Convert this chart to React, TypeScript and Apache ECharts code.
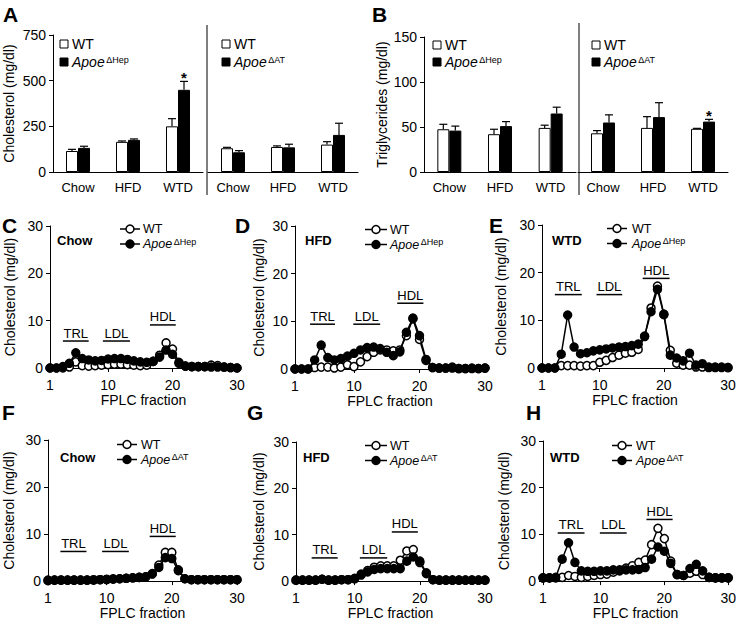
import React, { useEffect, useRef } from 'react';
import * as echarts from 'echarts';

const FONT = '"Liberation Sans", Arial, Helvetica, sans-serif';

// ---------- Bar panels (A: cholesterol, B: triglycerides) ----------
const dietCategories = ['Chow', 'HFD', 'WTD'];
const cholHepWT = [115, 165, 250];
const cholHepWTErr = [9, 5, 42];
const cholHepKO = [132, 176, 450];
const cholHepKOErr = [9, 5, 46];
const cholHepStars = [0, 0, 1];
const cholAtWT = [130, 137, 150];
const cholAtWTErr = [5, 6, 16];
const cholAtKO = [108, 135, 203];
const cholAtKOErr = [9, 17, 64];
const cholAtStars = [0, 0, 0];
const tgHepWT = [47.5, 42, 49];
const tgHepWTErr = [5.5, 5.5, 3];
const tgHepKO = [46, 51, 65];
const tgHepKOErr = [5, 5, 7];
const tgHepStars = [0, 0, 0];
const tgAtWT = [43, 49, 48];
const tgAtWTErr = [3, 12.5, 0.5];
const tgAtKO = [55, 61, 56];
const tgAtKOErr = [8.5, 16, 2.5];
const tgAtStars = [0, 0, 1];
const cholTicks = [0, 750, 250];
const tgTicks = [0, 150, 50];

// ---------- FPLC panels ----------
const fractions = [1, 2, 3, 4, 5, 6, 7, 8, 9, 10, 11, 12, 13, 14, 15, 16, 17, 18, 19, 20, 21, 22, 23, 24, 25, 26, 27, 28, 29, 30];
const fractionTicks = [1, 10, 20, 30];
const chowHepWT = [0, 0, 0, 0.2, 1.3, 0.5, 0.4, 0.5, 0.6, 0.7, 0.8, 0.8, 0.7, 0.6, 0.5, 0.6, 1.4, 2.7, 5.3, 4.0, 1.2, 0.4, 0.3, 0.3, 0.3, 0.6, 0.5, 0.2, 0.1, 0];
const chowHepKO = [0, 0, 0.3, 1.0, 3.2, 2.0, 1.7, 1.5, 1.6, 1.9, 2.0, 2.0, 1.8, 1.5, 1.3, 1.2, 1.4, 2.3, 3.8, 2.9, 1.0, 0.4, 0.3, 0.3, 0.3, 0.2, 0.2, 0.2, 0.1, 0];
const hfdHepWT = [0, 0, 0, 0.3, 0.4, 0.4, 0.2, 0.4, 0.9, 0.5, 1.5, 2.6, 3.5, 4.0, 4.0, 3.8, 4.0, 7.0, 10.5, 6.2, 1.8, 0.3, 0.2, 0.2, 0.4, 0.1, 0.1, 0.2, 0.1, 0.2];
const hfdHepKO = [0, 0, 0, 1.9, 5.0, 2.4, 1.9, 2.2, 2.7, 3.3, 4.0, 4.5, 4.6, 4.3, 3.5, 2.8, 3.6, 7.7, 10.7, 7.0, 2.0, 0.3, 0.2, 0.2, 0.2, 0.1, 0.1, 0.1, 0.1, 0.2];
const wtdHepWT = [0, 0, 0, 0.5, 0.5, 0.5, 0.4, 0.5, 0.5, 1.2, 1.6, 2.2, 2.7, 3.1, 3.3, 3.9, 6.6, 12.6, 17.2, 11.3, 3.7, 1.0, 0.6, 0.6, 0.2, 0.2, 0.1, 0.1, 0.1, 0.1];
const wtdHepKO = [0, 0, 0, 2.9, 11.1, 4.4, 3.0, 3.2, 3.6, 3.8, 4.0, 4.2, 4.4, 4.5, 4.7, 5.0, 6.7, 11.8, 16.5, 11.2, 2.7, 2.1, 1.5, 3.1, 0.6, 0.9, 0.2, 0.2, 0.2, 0.1];
const chowAtWT = [0.2, 0.2, 0.2, 0.2, 0.2, 0.2, 0.2, 0.3, 0.3, 0.4, 0.5, 0.5, 0.6, 0.7, 0.8, 0.9, 1.6, 3.4, 6.1, 6.1, 2.4, 0.5, 0.3, 0.3, 0.3, 0.3, 0.3, 0.3, 0.3, 0.3];
const chowAtKO = [0.1, 0.2, 0.2, 0.2, 0.2, 0.2, 0.2, 0.2, 0.3, 0.3, 0.4, 0.5, 0.6, 0.7, 0.8, 0.9, 1.5, 2.9, 5.0, 4.8, 2.2, 0.5, 0.3, 0.3, 0.3, 0.3, 0.3, 0.3, 0.3, 0.3];
const hfdAtWT = [0.2, 0.2, 0.2, 0.2, 0.4, 0.2, 0.2, 0.3, 0.3, 0.5, 1.3, 2.3, 3.0, 3.3, 3.3, 3.3, 4.5, 6.5, 6.8, 4.0, 1.6, 0.3, 0.2, 0.2, 0.2, 0.2, 0.2, 0.2, 0.2, 0.2];
const hfdAtKO = [0.2, 0.2, 0.2, 0.2, 0.4, 0.2, 0.2, 0.3, 0.3, 0.6, 1.5, 2.0, 2.5, 2.7, 2.7, 2.7, 2.7, 4.3, 5.2, 4.3, 1.8, 0.3, 0.2, 0.2, 0.2, 0.2, 0.2, 0.2, 0.2, 0.2];
const wtdAtWT = [0.7, 0.7, 0.7, 0.8, 1.2, 1.0, 0.8, 1.0, 1.2, 1.4, 1.5, 1.9, 2.2, 2.8, 3.3, 4.0, 4.5, 7.8, 11.3, 9.1, 4.3, 1.4, 1.2, 1.7, 2.1, 1.4, 0.8, 0.7, 0.7, 0.7];
const wtdAtKO = [0.7, 0.7, 0.8, 4.7, 8.2, 4.0, 2.2, 2.1, 2.1, 2.2, 2.2, 2.4, 2.4, 2.4, 2.4, 2.5, 2.9, 4.7, 7.3, 6.4, 3.8, 1.4, 1.2, 2.7, 3.6, 2.2, 0.8, 0.7, 0.7, 0.7];
const cholTicksFplc = [0, 30, 10];

// ---------- Layout ----------
const barPanels = [
  { grid: { left: 53, top: 35, width: 150, height: 137 }, wt: cholHepWT, wtErr: cholHepWTErr, ko: cholHepKO, koErr: cholHepKOErr, stars: cholHepStars, ticks: cholTicks, showY: true, yName: 'Cholesterol (mg/dl)', nameGap: 37 },
  { grid: { left: 208, top: 35, width: 150, height: 137 }, wt: cholAtWT, wtErr: cholAtWTErr, ko: cholAtKO, koErr: cholAtKOErr, stars: cholAtStars, ticks: cholTicks, showY: false, yName: '', nameGap: 0 },
  { grid: { left: 424, top: 37, width: 152, height: 135 }, wt: tgHepWT, wtErr: tgHepWTErr, ko: tgHepKO, koErr: tgHepKOErr, stars: tgHepStars, ticks: tgTicks, showY: true, yName: 'Triglycerides (mg/dl)', nameGap: 35 },
  { grid: { left: 578, top: 37, width: 150, height: 135 }, wt: tgAtWT, wtErr: tgAtWTErr, ko: tgAtKO, koErr: tgAtKOErr, stars: tgAtStars, ticks: tgTicks, showY: false, yName: '', nameGap: 0 },
];

const linePanels = [
  { grid: { left: 50, top: 226, width: 187, height: 142 }, wt: chowHepWT, ko: chowHepKO, nameGap: 33, diet: 'Chow', dietPos: [57, 240], leg: { x1: 120, x2: 140, tx: 143, y1: 229, y2: 244, ko: 'ΔHep' }, ann: [[3, 7, 5.7], [9.2, 13.4, 5.7], [16.5, 20.5, 9.1]] },
  { grid: { left: 295, top: 226, width: 190, height: 143 }, wt: hfdHepWT, ko: hfdHepKO, nameGap: 29, diet: 'HFD', dietPos: [305, 240], leg: { x1: 365, x2: 387, tx: 390, y1: 229.5, y2: 244.5, ko: 'ΔHep' }, ann: [[3.3, 7.1, 9.4], [9.9, 14, 9.4], [16.6, 20.6, 13.8]] },
  { grid: { left: 542, top: 225, width: 186, height: 143 }, wt: wtdHepWT, ko: wtdHepKO, nameGap: 34, diet: 'WTD', dietPos: [552, 240], leg: { x1: 607, x2: 627, tx: 632, y1: 228.5, y2: 243.5, ko: 'ΔHep' }, ann: [[3, 7.2, 15.4], [9.5, 13.5, 15.4], [16.7, 20.9, 18.8]] },
  { grid: { left: 48, top: 440, width: 189, height: 142 }, wt: chowAtWT, ko: chowAtKO, nameGap: 32, diet: 'Chow', dietPos: [60, 457], leg: { x1: 117, x2: 137, tx: 141, y1: 444.5, y2: 459.5, ko: 'ΔAT' }, ann: [[2.9, 6.9, 6.3], [9.3, 13.4, 6.3], [16.6, 20.6, 9.5]] },
  { grid: { left: 296, top: 442, width: 189, height: 141 }, wt: hfdAtWT, ko: hfdAtKO, nameGap: 30, diet: 'HFD', dietPos: [303, 457], leg: { x1: 365, x2: 387, tx: 390, y1: 445.5, y2: 460.5, ko: 'ΔAT' }, ann: [[3.4, 7.4, 5.0], [10.8, 15, 5.0], [15.7, 19.7, 10.6]] },
  { grid: { left: 543, top: 441, width: 186, height: 143 }, wt: wtdAtWT, ko: wtdAtKO, nameGap: 32, diet: 'WTD', dietPos: [550, 457], leg: { x1: 612, x2: 632, tx: 636, y1: 445.5, y2: 460.5, ko: 'ΔAT' }, ann: [[3.3, 7.5, 10.3], [9.9, 14.1, 10.3], [17.2, 21.3, 13.2]] },
];

const annLabels = ['TRL', 'LDL', 'HDL'];

const barLegends = [
  { sx: 60, tx: 72, y1: 44, y2: 62, ko: 'ΔHep' },
  { sx: 222, tx: 234, y1: 44, y2: 62, ko: 'ΔAT' },
  { sx: 433, tx: 445, y1: 45, y2: 62, ko: 'ΔHep' },
  { sx: 592, tx: 604, y1: 45, y2: 62, ko: 'ΔAT' },
];

const panelLetters: [string, number, number][] = [
  ['A', 3, 14], ['B', 372, 14], ['C', 2, 225], ['D', 235, 225], ['E', 489, 225],
  ['F', 2, 412], ['G', 247, 412], ['H', 526, 412],
];

const separators = [[207, 25, 195], [579, 23, 195]];

function errorSeries(xi: number, values: number[], errs: number[], side: number, stars: number[]) {
  return {
    type: 'custom',
    xAxisIndex: xi,
    yAxisIndex: xi,
    z: 5,
    silent: true,
    encode: { x: 0, y: 1 },
    data: values.map((v, i) => [i, v, errs[i], stars[i]]),
    renderItem: (params: any, api: any) => {
      const cat = api.value(0);
      const v = api.value(1);
      const e = api.value(2);
      const star = api.value(3);
      const base = api.coord([cat, v]);
      const top = api.coord([cat, v + e]);
      const x = base[0] + side * 6;
      const children: any[] = [
        { type: 'line', shape: { x1: x, y1: base[1], x2: x, y2: top[1] }, style: { stroke: '#000', lineWidth: 1.2 } },
        { type: 'line', shape: { x1: x - 4, y1: top[1], x2: x + 4, y2: top[1] }, style: { stroke: '#000', lineWidth: 1.2 } },
      ];
      if (star) {
        children.push({ type: 'text', x: x, y: top[1] - 4, style: { text: '*', fontFamily: FONT, fontSize: 15, fontWeight: 'bold', fill: '#000', align: 'center', verticalAlign: 'middle' } });
      }
      return { type: 'group', children };
    },
  };
}

function measure(text: string, font: string): number {
  const c = document.createElement('canvas').getContext('2d');
  if (!c) return text.length * 8;
  c.font = font;
  return c.measureText(text).width;
}

function legendTexts(g: any[], tx: number, y1: number, y2: number, ko: string, fs: number) {
  g.push({ type: 'text', x: tx, y: y1, style: { text: 'WT', fontFamily: FONT, fontSize: fs, fill: '#000', align: 'left', verticalAlign: 'middle' } });
  g.push({ type: 'text', x: tx, y: y2, style: { text: 'Apoe', fontFamily: FONT, fontSize: fs, fontStyle: 'italic', fill: '#000', align: 'left', verticalAlign: 'middle' } });
  const w = measure('Apoe', `italic ${fs}px ${FONT}`);
  g.push({ type: 'text', x: tx + w + 1.5, y: y2 - 2.5, style: { text: ko, fontFamily: FONT, fontSize: 9, fill: '#000', align: 'left', verticalAlign: 'middle' } });
}

export default function App() {
  const ref = useRef<HTMLDivElement>(null);
  useEffect(() => {
    const chart = echarts.init(ref.current!, null, { renderer: 'svg' });
    const grids: any[] = [];
    const xAxes: any[] = [];
    const yAxes: any[] = [];
    const series: any[] = [];
    const axisLine = { show: true, lineStyle: { color: '#000', width: 1 } };

    barPanels.forEach((p, i) => {
      grids.push({ ...p.grid, containLabel: false });
      xAxes.push({
        type: 'category', gridIndex: i, data: dietCategories,
        axisLine, axisTick: { show: false },
        axisLabel: { color: '#000', fontFamily: FONT, fontSize: 13, margin: 9 },
      });
      yAxes.push({
        type: 'value', gridIndex: i, show: p.showY,
        min: p.ticks[0], max: p.ticks[1], interval: p.ticks[2],
        axisLine, axisTick: { show: true, length: 4, lineStyle: { color: '#000' } },
        splitLine: { show: false },
        axisLabel: { color: '#000', fontFamily: FONT, fontSize: 14, margin: 7 },
        name: p.yName, nameLocation: 'middle', nameGap: p.nameGap,
        nameTextStyle: { color: '#000', fontFamily: FONT, fontSize: 14 },
      });
      series.push({
        type: 'bar', xAxisIndex: i, yAxisIndex: i, data: p.wt, barWidth: 12, barGap: '0%',
        itemStyle: { color: '#fff', borderColor: '#000', borderWidth: 1 },
      });
      series.push({
        type: 'bar', xAxisIndex: i, yAxisIndex: i, data: p.ko, barWidth: 12, barGap: '0%',
        itemStyle: { color: '#000', borderColor: '#000', borderWidth: 1 },
      });
      series.push(errorSeries(i, p.wt, p.wtErr, -1, [0, 0, 0]));
      series.push(errorSeries(i, p.ko, p.koErr, 1, p.stars));
    });

    linePanels.forEach((p, j) => {
      const i = barPanels.length + j;
      grids.push({ ...p.grid, containLabel: false });
      xAxes.push({
        type: 'value', gridIndex: i, min: fractions[0], max: fractions[fractions.length - 1],
        axisLine, splitLine: { show: false },
        axisTick: { show: true, length: 4, customValues: fractionTicks, lineStyle: { color: '#000' } },
        axisLabel: { color: '#000', fontFamily: FONT, fontSize: 14, margin: 10, customValues: fractionTicks },
        name: 'FPLC fraction', nameLocation: 'middle', nameGap: 24,
        nameTextStyle: { color: '#000', fontFamily: FONT, fontSize: 14 },
      });
      yAxes.push({
        type: 'value', gridIndex: i, min: cholTicksFplc[0], max: cholTicksFplc[1], interval: cholTicksFplc[2],
        axisLine, splitLine: { show: false },
        axisTick: { show: true, length: 4, lineStyle: { color: '#000' } },
        axisLabel: { color: '#000', fontFamily: FONT, fontSize: 14, margin: 7 },
        name: 'Cholesterol (mg/dl)', nameLocation: 'middle', nameGap: p.nameGap,
        nameTextStyle: { color: '#000', fontFamily: FONT, fontSize: 14 },
      });
      series.push({
        type: 'line', xAxisIndex: i, yAxisIndex: i, data: fractions.map((f, k) => [f, p.wt[k]]),
        symbol: 'circle', symbolSize: 8, z: 3,
        lineStyle: { color: '#000', width: 1.5 },
        itemStyle: { color: '#fff', borderColor: '#000', borderWidth: 1.5 },
      });
      series.push({
        type: 'line', xAxisIndex: i, yAxisIndex: i, data: fractions.map((f, k) => [f, p.ko[k]]),
        symbol: 'circle', symbolSize: 8, z: 4,
        lineStyle: { color: '#000', width: 1.5 },
        itemStyle: { color: '#000', borderColor: '#000', borderWidth: 1.5 },
      });
    });

    chart.setOption({
      animation: false,
      backgroundColor: '#fff',
      textStyle: { fontFamily: FONT },
      grid: grids, xAxis: xAxes, yAxis: yAxes, series,
    });

    const g: any[] = [];
    panelLetters.forEach(([t, x, y]) => {
      g.push({ type: 'text', x, y, style: { text: t, fontFamily: FONT, fontSize: 21, fontWeight: 'bold', fill: '#000', align: 'left', verticalAlign: 'middle' } });
    });
    separators.forEach(([x, y1, y2]) => {
      g.push({ type: 'line', shape: { x1: x, y1, x2: x, y2 }, style: { stroke: '#000', lineWidth: 1 } });
    });
    barLegends.forEach((l) => {
      g.push({ type: 'rect', shape: { x: l.sx, y: l.y1 - 4, width: 8, height: 8 }, style: { fill: '#fff', stroke: '#000', lineWidth: 1 } });
      g.push({ type: 'rect', shape: { x: l.sx, y: l.y2 - 4, width: 8, height: 8 }, style: { fill: '#000', stroke: '#000', lineWidth: 1 } });
      legendTexts(g, l.tx, l.y1, l.y2, l.ko, 14);
    });
    linePanels.forEach((p, j) => {
      const gi = barPanels.length + j;
      const l = p.leg;
      const cx = (l.x1 + l.x2) / 2;
      g.push({ type: 'line', shape: { x1: l.x1, y1: l.y1, x2: l.x2, y2: l.y1 }, style: { stroke: '#000', lineWidth: 1.5 } });
      g.push({ type: 'circle', shape: { cx, cy: l.y1, r: 4 }, style: { fill: '#fff', stroke: '#000', lineWidth: 1.5 } });
      g.push({ type: 'line', shape: { x1: l.x1, y1: l.y2, x2: l.x2, y2: l.y2 }, style: { stroke: '#000', lineWidth: 1.5 } });
      g.push({ type: 'circle', shape: { cx, cy: l.y2, r: 4 }, style: { fill: '#000', stroke: '#000', lineWidth: 1.5 } });
      legendTexts(g, l.tx, l.y1, l.y2, l.ko, 12.5);
      g.push({ type: 'text', x: p.dietPos[0], y: p.dietPos[1], style: { text: p.diet, fontFamily: FONT, fontSize: 13, fontWeight: 'bold', fill: '#000', align: 'left', verticalAlign: 'middle' } });
      p.ann.forEach(([f1, f2, v], k) => {
        const a = chart.convertToPixel({ gridIndex: gi } as any, [f1, v]) as number[];
        const b = chart.convertToPixel({ gridIndex: gi } as any, [f2, v]) as number[];
        g.push({ type: 'line', shape: { x1: a[0], y1: a[1], x2: b[0], y2: b[1] }, style: { stroke: '#000', lineWidth: 1.5 } });
        g.push({ type: 'text', x: (a[0] + b[0]) / 2, y: a[1] - 8, style: { text: annLabels[k], fontFamily: FONT, fontSize: 13, fill: '#000', align: 'center', verticalAlign: 'middle' } });
      });
    });
    chart.setOption({ graphic: g });

    return () => chart.dispose();
  }, []);
  return <div ref={ref} style={{ position: 'absolute', left: 0, top: 0, width: 739, height: 621, background: '#fff' }} />;
}
